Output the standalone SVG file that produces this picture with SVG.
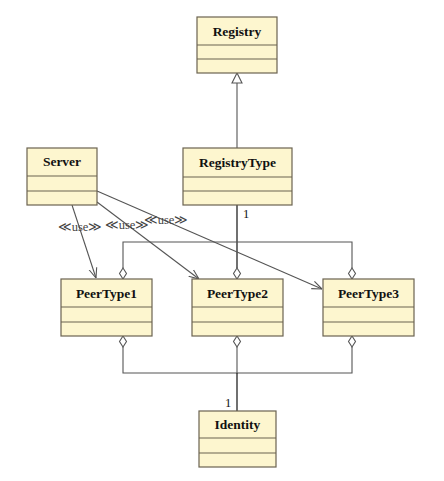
<svg xmlns="http://www.w3.org/2000/svg" width="444" height="481" viewBox="0 0 444 481">
<defs>
<style>
.box{fill:#fdf6cf;stroke:#6b6350;stroke-width:1.2}
.div{stroke:#6b6350;stroke-width:1.2}
.name{font-family:"Liberation Serif","Times New Roman",serif;font-weight:bold;font-size:13.5px;fill:#111;text-anchor:middle}
.ln{fill:none;stroke:#555;stroke-width:1.1}
.lb{fill:none;stroke:#111;stroke-width:1.2}
.st{font-family:"Liberation Serif","DejaVu Serif",serif;font-size:12.5px;fill:#444;text-anchor:middle}
.mul{font-family:"Liberation Serif",serif;font-size:12.5px;fill:#111}
.dia{fill:#fff;stroke:#555;stroke-width:1.1}
</style>
<marker id="open" viewBox="0 0 10 10" refX="10" refY="5" markerWidth="10" markerHeight="10" markerUnits="userSpaceOnUse" orient="auto">
<path d="M0,1 L10,5 L0,9" fill="none" stroke="#555" stroke-width="1.1"/>
</marker>
</defs>
<rect width="444" height="481" fill="#fff"/>
<g id="connectors">
<line class="ln" x1="237" y1="148" x2="237" y2="83"/>
<polygon points="237,73 232,83 242,83" fill="#fff" stroke="#555" stroke-width="1.1"/>
<line class="lb" x1="237" y1="205" x2="237" y2="268"/>
<polyline class="ln" points="123,268 123,242 352,242 352,268"/>
<polygon class="dia" points="123,268 126.5,273.5 123,279 119.5,273.5"/>
<polygon class="dia" points="237,268 240.5,273.5 237,279 233.5,273.5"/>
<polygon class="dia" points="352,268 355.5,273.5 352,279 348.5,273.5"/>
<text class="mul" x="243" y="218">1</text>
<polygon class="dia" points="123,336 126.5,341.5 123,347 119.5,341.5"/>
<polygon class="dia" points="237,336 240.5,341.5 237,347 233.5,341.5"/>
<polygon class="dia" points="352,336 355.5,341.5 352,347 348.5,341.5"/>
<polyline class="ln" points="123,347 123,373 352,373 352,347"/>
<line class="ln" x1="237" y1="347" x2="237" y2="373"/>
<line class="lb" x1="237" y1="373" x2="237" y2="411"/>
<text class="mul" x="225" y="407">1</text>
<line class="ln" x1="72" y1="205" x2="96" y2="278" marker-end="url(#open)"/>
<line class="ln" x1="97" y1="202" x2="199" y2="279" marker-end="url(#open)"/>
<line class="ln" x1="97" y1="191" x2="322" y2="289" marker-end="url(#open)"/>
<text class="st" x="80" y="231">≪use≫</text>
<text class="st" x="127" y="229">≪use≫</text>
<text class="st" x="166" y="224">≪use≫</text>
</g>
<g id="Registry">
<rect class="box" x="197" y="17" width="80" height="56"/>
<line class="div" x1="197" y1="45" x2="277" y2="45"/>
<line class="div" x1="197" y1="59" x2="277" y2="59"/>
<text class="name" x="237" y="36">Registry</text>
</g>
<g id="RegistryType">
<rect class="box" x="183" y="148" width="109" height="57"/>
<line class="div" x1="183" y1="177" x2="292" y2="177"/>
<line class="div" x1="183" y1="191" x2="292" y2="191"/>
<text class="name" x="237.5" y="167">RegistryType</text>
</g>
<g id="Server">
<rect class="box" x="27" y="148" width="70" height="57"/>
<line class="div" x1="27" y1="176" x2="97" y2="176"/>
<line class="div" x1="27" y1="191" x2="97" y2="191"/>
<text class="name" x="62" y="166">Server</text>
</g>
<g id="PeerType1">
<rect class="box" x="61" y="279" width="91" height="57"/>
<line class="div" x1="61" y1="307" x2="152" y2="307"/>
<line class="div" x1="61" y1="322" x2="152" y2="322"/>
<text class="name" x="106.5" y="298">PeerType1</text>
</g>
<g id="PeerType2">
<rect class="box" x="192" y="279" width="91" height="57"/>
<line class="div" x1="192" y1="307" x2="283" y2="307"/>
<line class="div" x1="192" y1="322" x2="283" y2="322"/>
<text class="name" x="237.5" y="298">PeerType2</text>
</g>
<g id="PeerType3">
<rect class="box" x="323" y="279" width="91" height="57"/>
<line class="div" x1="323" y1="307" x2="414" y2="307"/>
<line class="div" x1="323" y1="322" x2="414" y2="322"/>
<text class="name" x="368.5" y="298">PeerType3</text>
</g>
<g id="Identity">
<rect class="box" x="199" y="411" width="77" height="56"/>
<line class="div" x1="199" y1="438" x2="276" y2="438"/>
<line class="div" x1="199" y1="453" x2="276" y2="453"/>
<text class="name" x="237.5" y="429">Identity</text>
</g>
</svg>
